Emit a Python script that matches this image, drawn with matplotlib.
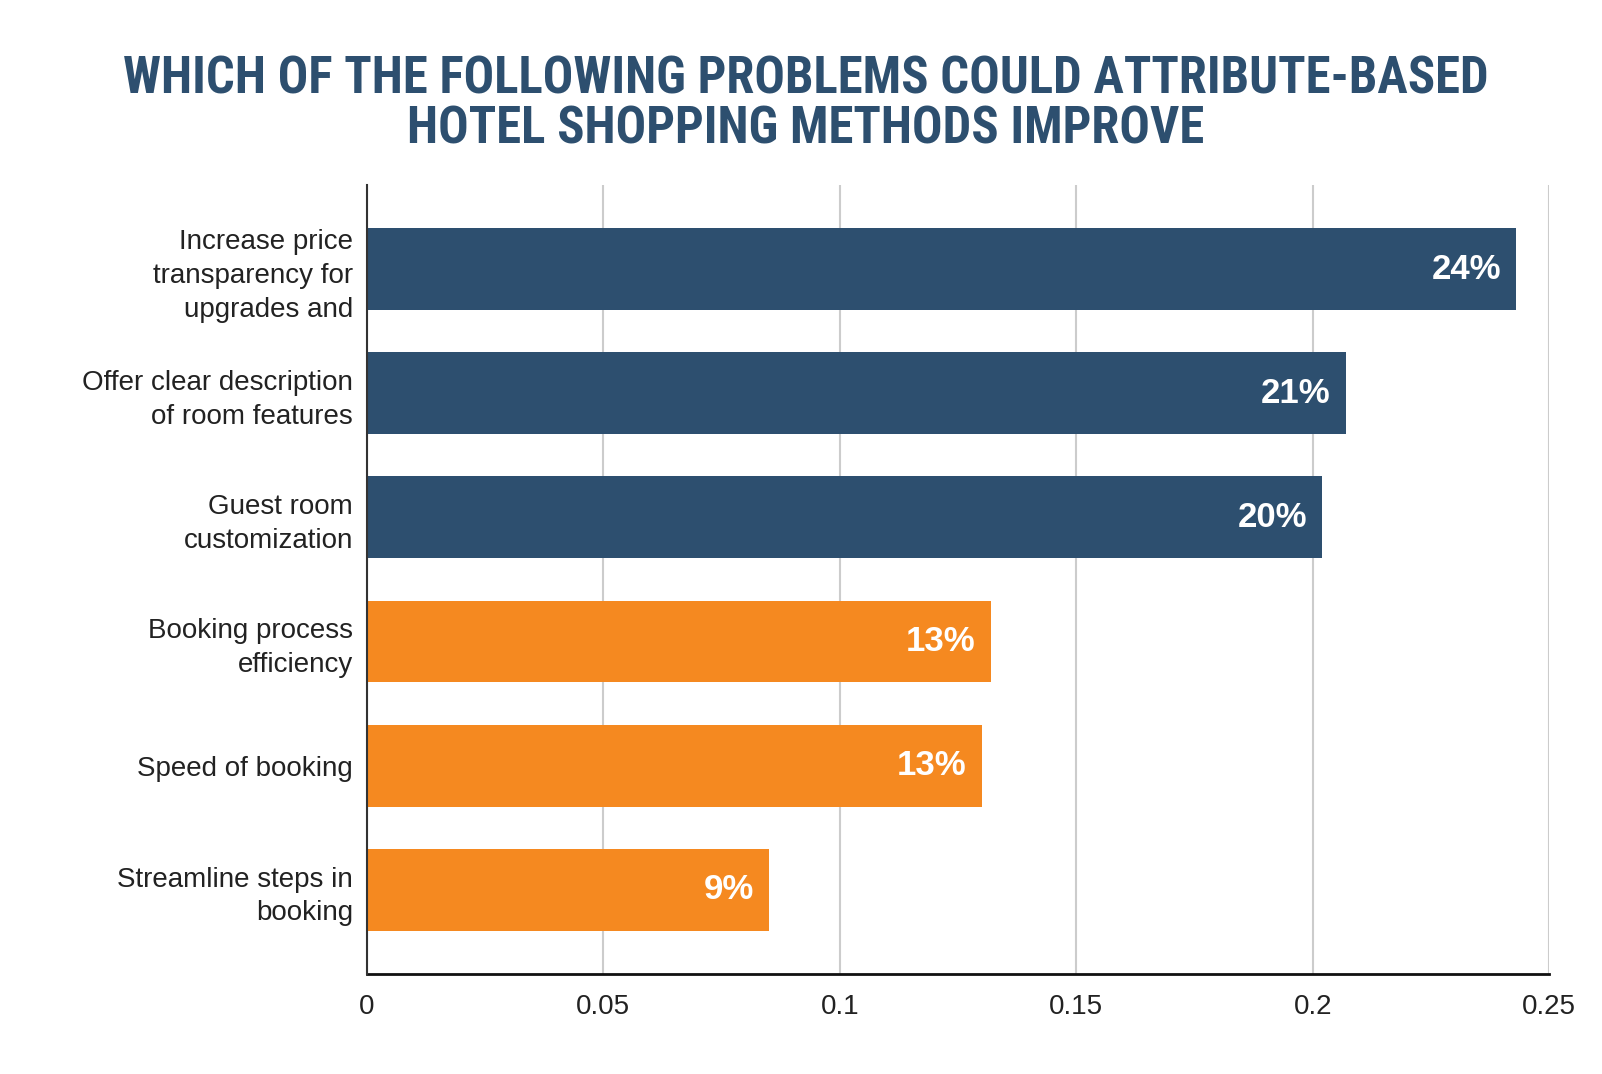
import matplotlib
matplotlib.use("Agg")
import matplotlib.pyplot as plt
from matplotlib import font_manager

categories = [
    "Increase price\ntransparency for\nupgrades and",
    "Offer clear description\nof room features",
    "Guest room\ncustomization",
    "Booking process\nefficiency",
    "Speed of booking",
    "Streamline steps in\nbooking",
]
values = [0.243, 0.207, 0.202, 0.132, 0.130, 0.085]
value_labels = ["24%", "21%", "20%", "13%", "13%", "9%"]
bar_colors = ["#2d4f6f", "#2d4f6f", "#2d4f6f", "#f58920", "#f58920", "#f58920"]
xticks = [0, 0.05, 0.1, 0.15, 0.2, 0.25]
xtick_labels = ["0", "0.05", "0.1", "0.15", "0.2", "0.25"]
title = "WHICH OF THE FOLLOWING PROBLEMS COULD ATTRIBUTE-BASED\nHOTEL SHOPPING METHODS IMPROVE"

names = {f.name for f in font_manager.fontManager.ttflist}
title_font = "Roboto"
for cand in ["Roboto Condensed", "Liberation Sans Narrow", "Open Sans Condensed"]:
    if cand in names:
        title_font = cand
        break

fig = plt.figure(figsize=(16.02, 10.74), dpi=100)
ax = fig.add_axes([0.229, 0.093, 0.738, 0.735])

ypos = list(range(len(categories)))
ax.barh(ypos, values, height=0.66, color=bar_colors, zorder=3)
ax.set_ylim(len(categories) - 1 + 0.68, -0.68)
ax.set_xlim(0, 0.25)
ax.set_yticks(ypos)
ax.set_yticklabels(categories, fontsize=20, family="Liberation Sans", color="#222222",
                   linespacing=1.38)
ax.set_xticks(xticks)
ax.set_xticklabels(xtick_labels, fontsize=20, family="Liberation Sans", color="#222222")
ax.tick_params(axis="y", length=0, pad=10)
ax.tick_params(axis="x", length=0, pad=14)

ax.grid(axis="x", color="#cccccc", linewidth=1.5, zorder=0)
ax.grid(axis="y", visible=False)
for s in ["top", "right"]:
    ax.spines[s].set_visible(False)
ax.spines["left"].set_color("#333333")
ax.spines["left"].set_linewidth(1.5)
ax.spines["bottom"].set_color("#111111")
ax.spines["bottom"].set_linewidth(2)
ax.spines["left"].set_zorder(4)

for y, v, lab in zip(ypos, values, value_labels):
    ax.annotate(lab, xy=(v, y), xytext=(-11, 0), textcoords="offset points",
                ha="right", va="center", color="white", fontsize=25,
                fontweight="bold", family="Liberation Sans", zorder=5)

fig.text(0.503, 0.903, title, ha="center", va="center", fontsize=36.5,
         fontweight="bold", family=title_font, color="#2d4f6f", linespacing=1.0)

fig.savefig("out.png", dpi=100, facecolor="white")
